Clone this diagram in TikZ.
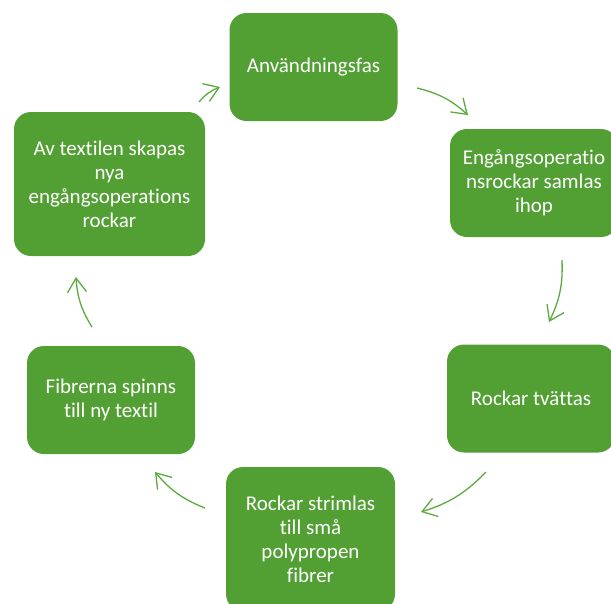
\documentclass[tikz,border=0pt]{standalone}
\usepackage{fontspec}
\setmainfont{Carlito}[Ligatures=NoCommon]
\usetikzlibrary{arrows.meta}
\definecolor{phasegreen}{RGB}{82,160,52}
\definecolor{arrowgreen}{RGB}{92,170,62}
\tikzset{
    phase/.style={rectangle, rounded corners=17pt, fill=phasegreen, text=white,
        align=center, font=\fontsize{21}{24}\selectfont, inner sep=0pt,
        minimum width=168pt, minimum height=108pt},
    cyclearrow/.style={draw=arrowgreen, line width=1.3pt, bend left=14,
        -{Straight Barb[length=14pt,width=19pt]}},
}
\begin{document}
\begin{tikzpicture}[x=1pt,y=1pt]
            \useasboundingbox (0,0) rectangle (611,-603);
            \node [phase] (use) at (313.5,-67) {Användningsfas};
            \node [phase] (collect) at (534,-183) {Engångsoperatio\\nsrockar samlas\\ihop};
            \node [phase] (wash) at (531,-398.5) {Rockar tvättas};
            \node [phase, minimum width=169pt, minimum height=144pt] (shred) at (310.5,-539) {Rockar strimlas\\till små\\polypropen\\fibrer};
            \node [phase] (spin) at (111,-400) {Fibrerna spinns\\till ny textil};
            \node [phase, minimum width=191pt, minimum height=144pt] (make) at (109.5,-184) {Av textilen skapas\\nya\\engångsoperations\\rockar};
            % free ends of the cycle arrows
            \coordinate (a1) at (199,-102); \coordinate (b1) at (220,-87);
            \coordinate (a2) at (417,-88);  \coordinate (b2) at (468,-115);
            \coordinate (a3) at (562,-260); \coordinate (b3) at (549,-322);
            \coordinate (a4) at (486,-472); \coordinate (b4) at (421,-512);
            \coordinate (a5) at (205,-508); \coordinate (b5) at (155,-472);
            \coordinate (a6) at (92,-327);  \coordinate (b6) at (76,-277);
            \draw [cyclearrow] (a1) to (b1);
            \draw [cyclearrow] (a2) to (b2);
            \draw [cyclearrow] (a3) to (b3);
            \draw [cyclearrow] (a4) to (b4);
            \draw [cyclearrow] (a5) to (b5);
            \draw [cyclearrow] (a6) to (b6);
\end{tikzpicture}
\end{document}
